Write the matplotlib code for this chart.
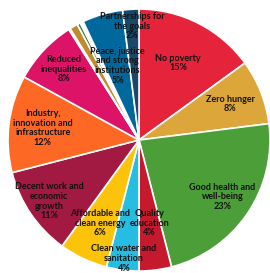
import numpy as np
import matplotlib
matplotlib.use('Agg')
import matplotlib.pyplot as plt

goals = ['No poverty', 'Zero hunger', 'Good health and\nwell-being', 'Quality\neducation',
         'Clean water and\nsanitation', 'Affordable and\nclean energy',
         'Decent work and\neconomic\ngrowth', 'Industry,\ninnovation and\ninfrastructure',
         'Reduced\ninequalities', 'Sustainable cities', 'Responsible consumption',
         'Climate action', 'Life below water', 'Life on land',
         'Peace, justice\nand strong\ninstitutions', 'Partnerships for\nthe goals']
shares = [15, 8, 23, 4, 4, 6, 11, 12, 8, 0.2, 1.0, 0.4, 0.2, 0.2, 5, 2]
pct_labels = ['15%', '8%', '23%', '4%', '4%', '6%', '11%', '12%', '8%', '', '', '', '', '', '5%', '2%']
colors = ['#E5243B', '#DDA63A', '#4C9F38', '#C5192D', '#26BDE2', '#FCC30B', '#A21942',
          '#FD6925', '#DD1367', '#FD9D24', '#BF8B2E', '#3F7E44', '#0A97D9', '#56C02B',
          '#00689D', '#19486A']
# radial position of each label, as a fraction of the radius
label_r = [0.66, 0.75, 0.77, 0.64, 0.91, 0.70, 0.83, 0.74, 0.79, 0, 0, 0, 0, 0, 0.59, 0.87]

fig = plt.figure(figsize=(2.70, 2.73), dpi=100)
ax = fig.add_axes([0, 0, 1, 1])
wedges, _ = ax.pie(shares, colors=colors, startangle=90, counterclock=False, radius=1,
                   wedgeprops=dict(edgecolor='white', linewidth=1.2))
for w, name, pct, r in zip(wedges, goals, pct_labels, label_r):
    if not pct:
        continue
    mid = np.deg2rad((w.theta1 + w.theta2) / 2)
    ax.text(r * np.cos(mid), r * np.sin(mid), name + '\n' + pct, ha='center', va='center',
            fontsize=6.5, family='Lato', fontweight='bold', color='#111111', linespacing=1.1)
ax.set_xlim(-1.061, 1.0)
ax.set_ylim(-1.015, 1.069)
ax.set_aspect('auto')
ax.axis('off')
fig.savefig('out.png', dpi=100)
